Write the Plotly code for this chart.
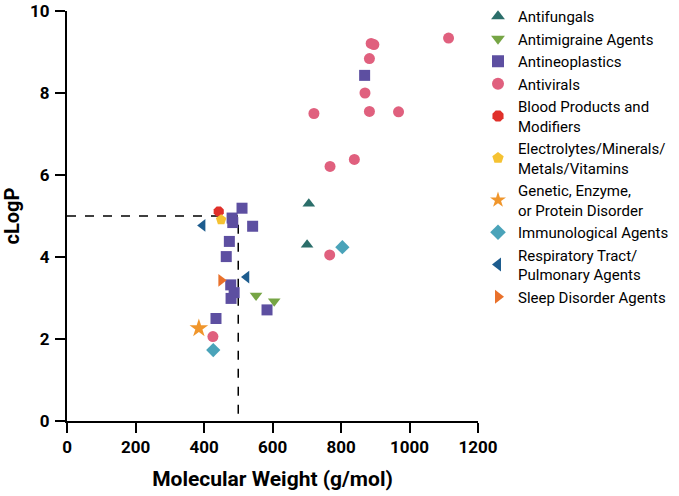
import plotly.graph_objects as go

# molecular weight (g/mol) and cLogP for each drug class
antifungals_mw = [706, 701]
antifungals_clogp = [5.30, 4.30]

antimigraine_mw = [552, 605]
antimigraine_clogp = [3.06, 2.92]

antineoplastics_mw = [869, 511, 482, 484, 542, 474, 465, 478, 488, 479, 584, 435]
antineoplastics_clogp = [8.43, 5.19, 4.95, 4.84, 4.75, 4.38, 4.01, 3.32, 3.13, 2.99, 2.71, 2.50]

antivirals_mw = [1114, 888, 896, 883, 870, 883, 968, 721, 839, 768, 767, 426]
antivirals_clogp = [9.34, 9.21, 9.18, 8.84, 8.00, 7.55, 7.54, 7.50, 6.38, 6.21, 4.05, 2.06]

blood_mw = [443]
blood_clogp = [5.11]

electrolytes_mw = [450]
electrolytes_clogp = [4.91]

genetic_mw = [385]
genetic_clogp = [2.26]

immuno_mw = [804, 427]
immuno_clogp = [4.24, 1.73]

respiratory_mw = [396, 524]
respiratory_clogp = [4.77, 3.51]

sleep_mw = [450]
sleep_clogp = [3.43]

# Lipinski cut-offs
mw_limit = 500
clogp_limit = 5

series = [
    ("Antifungals", antifungals_mw, antifungals_clogp, "triangle-up", "#2b6e6a"),
    ("Antimigraine Agents", antimigraine_mw, antimigraine_clogp, "triangle-down", "#76a545"),
    ("Antineoplastics", antineoplastics_mw, antineoplastics_clogp, "square", "#5d4fa1"),
    ("Antivirals", antivirals_mw, antivirals_clogp, "circle", "#e0607e"),
    ("Blood Products and<br>Modifiers", blood_mw, blood_clogp, "octagon", "#e0302a"),
    ("Electrolytes/Minerals/<br>Metals/Vitamins", electrolytes_mw, electrolytes_clogp, "pentagon", "#f5c232"),
    ("Genetic, Enzyme,<br>or Protein Disorder", genetic_mw, genetic_clogp, "star", "#f0962c"),
    ("Immunological Agents", immuno_mw, immuno_clogp, "diamond", "#4aa3b9"),
    ("Respiratory Tract/<br>Pulmonary Agents", respiratory_mw, respiratory_clogp, "triangle-left", "#1d5c8e"),
    ("Sleep Disorder Agents", sleep_mw, sleep_clogp, "triangle-right", "#e9712b"),
]

fig = go.Figure()

# dashed guide lines at MW = 500 and cLogP = 5
fig.add_trace(go.Scatter(
    x=[0, mw_limit, mw_limit], y=[clogp_limit, clogp_limit, 0],
    mode="lines", line=dict(color="black", width=1.5, dash="dash"),
    showlegend=False, hoverinfo="skip",
))

for name, xs, ys, symbol, color in series:
    size = 14 if symbol == "star" else 11
    fig.add_trace(go.Scatter(
        x=xs, y=ys, mode="markers", name=name,
        marker=dict(symbol=symbol, color=color, size=size, line=dict(width=0)),
    ))

axis_common = dict(
    showline=True, linecolor="black", linewidth=2,
    ticks="outside", ticklen=10, tickwidth=2, tickcolor="black",
    showgrid=False, zeroline=False, automargin=False,
    ticklabeloverflow="allow",
    tickfont=dict(family="Roboto", size=17, color="black", weight="bold"),
)

fig.update_layout(
    width=679, height=496,
    margin=dict(l=67, r=197, t=11, b=75),
    plot_bgcolor="white", paper_bgcolor="white",
    font=dict(family="Roboto", color="black"),
    xaxis=dict(
        range=[0, 1200], dtick=200, ticklabelstandoff=0,
        title=dict(text="Molecular Weight (g/mol)", standoff=15,
                   font=dict(family="Roboto", size=21, color="black", weight="bold")),
        **axis_common,
    ),
    yaxis=dict(
        range=[0, 10], dtick=2, ticklabelstandoff=2,
        title=dict(text="cLogP", standoff=10,
                   font=dict(family="Roboto", size=20, color="black", weight="bold")),
        **axis_common,
    ),
    legend=dict(
        xref="container", yref="container",
        x=478 / 679, xanchor="left", y=1.0, yanchor="top",
        font=dict(family="Roboto", size=15, color="black"),
        itemsizing="constant", tracegroupgap=0, maxheight=480,
        bgcolor="rgba(0,0,0,0)",
    ),
)

# drop the page's default body margin so the figure sits at the window's corner
fig.write_html(
    "out.html",
    config={"displayModeBar": False},
    post_script="document.body.style.margin = '0';",
)
